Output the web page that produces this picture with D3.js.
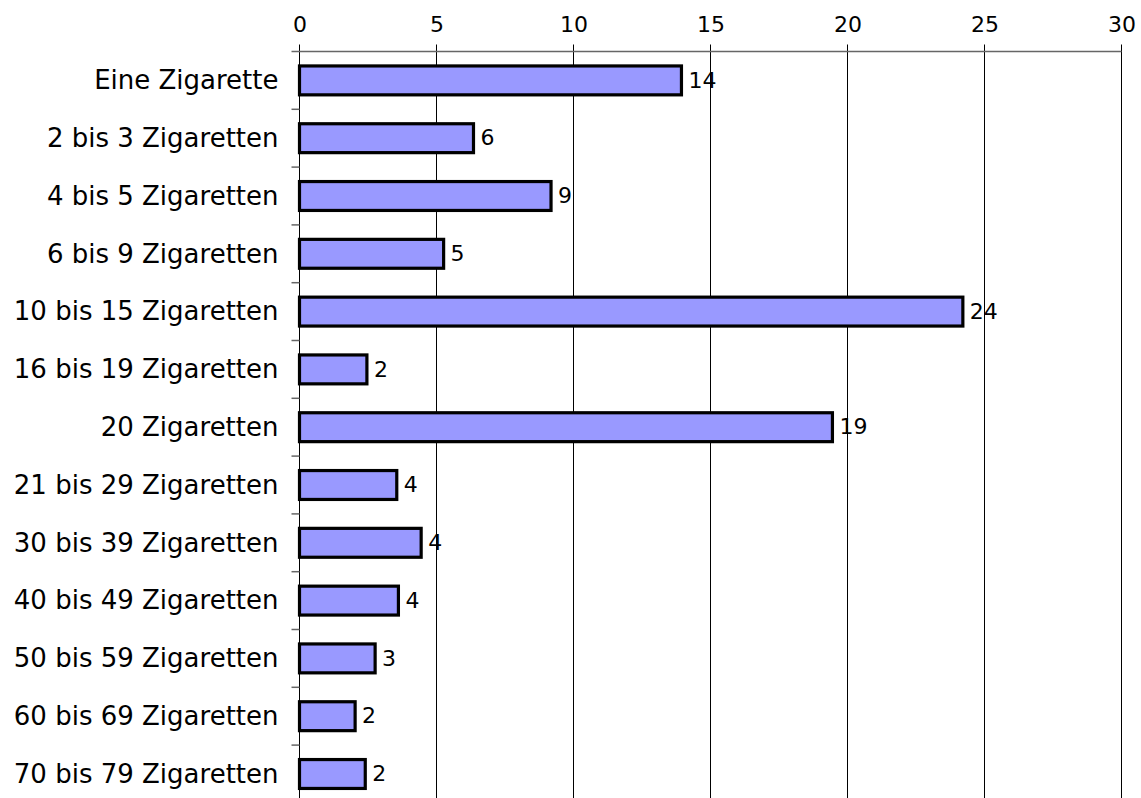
<!DOCTYPE html>
<html>
<head>
<meta charset="utf-8">
<script src="https://cdn.jsdelivr.net/npm/d3@7"></script>
<style>
  body { margin: 0; background: #fff; }
  svg { display: block; }
  text { font-family: "DejaVu Sans", Verdana, sans-serif; fill: #000; }
</style>
</head>
<body>
<svg id="chart" width="1141" height="798"></svg>
<script>
// Zigaretten pro Tag – Anzahl der Befragten
const categories = [
  "Eine Zigarette", "2 bis 3 Zigaretten", "4 bis 5 Zigaretten", "6 bis 9 Zigaretten",
  "10 bis 15 Zigaretten", "16 bis 19 Zigaretten", "20 Zigaretten", "21 bis 29 Zigaretten",
  "30 bis 39 Zigaretten", "40 bis 49 Zigaretten", "50 bis 59 Zigaretten",
  "60 bis 69 Zigaretten", "70 bis 79 Zigaretten"
];
const values = [13.94, 6.35, 9.18, 5.26, 24.21, 2.46, 19.45, 3.55, 4.44, 3.61, 2.76, 2.03, 2.40];
const xTicks = [0, 5, 10, 15, 20, 25, 30];

const svg = d3.select("#chart");
const margin = { top: 51.5, left: 299.5 };
const plotW = 822;
const plotH = 57.8 * categories.length;

const x = d3.scaleLinear().domain([0, 30]).range([0, plotW]);
const y = d3.scaleBand().domain(categories).range([0, plotH]).paddingInner(0.5).paddingOuter(0.25);

const g = svg.append("g").attr("transform", `translate(${margin.left},${margin.top})`);

// vertical gridlines (extend above the axis line as tick marks)
g.append("g").selectAll("line").data(xTicks).join("line")
  .attr("x1", d => x(d)).attr("x2", d => x(d))
  .attr("y1", -7).attr("y2", plotH)
  .attr("stroke", "#000").attr("stroke-width", 1);

// top axis with labels
const xAxis = g.append("g").call(d3.axisTop(x).tickValues(xTicks).tickSize(0).tickPadding(20).tickFormat(d3.format("d")));
xAxis.select(".domain").remove();
xAxis.selectAll("text").style("font-size", "22px").style("font-family", "DejaVu Sans, Verdana, sans-serif");

// top axis line
g.append("line")
  .attr("x1", -8).attr("x2", plotW)
  .attr("y1", 0).attr("y2", 0)
  .attr("stroke", "#666").attr("stroke-width", 1.5);

// category tick marks at band boundaries
const bounds = d3.range(1, categories.length + 1).map(i => i * plotH / categories.length);
g.append("g").selectAll("line").data(bounds).join("line")
  .attr("x1", -8).attr("x2", 0)
  .attr("y1", d => d).attr("y2", d => d)
  .attr("stroke", "#666").attr("stroke-width", 1.5);

// category labels
const yAxis = g.append("g").call(d3.axisLeft(y).tickSize(0).tickPadding(21));
yAxis.select(".domain").remove();
yAxis.selectAll("text").attr("dy", "0.34em").style("font-size", "26px").style("font-family", "DejaVu Sans, Verdana, sans-serif");

// bars
g.append("g").selectAll("rect").data(values).join("rect")
  .attr("x", 0)
  .attr("y", (d, i) => y(categories[i]))
  .attr("width", d => x(d))
  .attr("height", y.bandwidth())
  .attr("fill", "#9999ff")
  .attr("stroke", "#000")
  .attr("stroke-width", 3.2);

// value labels
g.append("g").selectAll("text").data(values).join("text")
  .attr("x", d => x(d) + 7)
  .attr("y", (d, i) => y(categories[i]) + y.bandwidth() / 2)
  .attr("dy", "0.33em")
  .style("font-size", "22px")
  .text(d => d3.format(".0f")(d));
</script>
</body>
</html>
